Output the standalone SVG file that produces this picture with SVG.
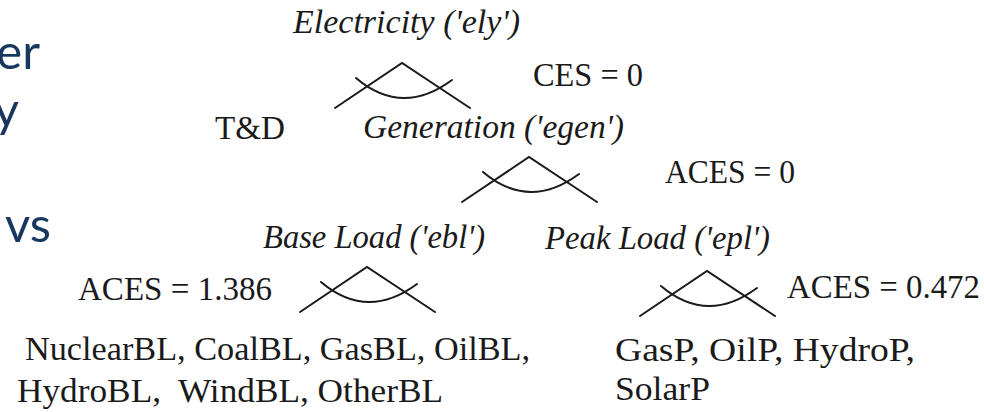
<svg xmlns="http://www.w3.org/2000/svg" xmlns:xlink="http://www.w3.org/1999/xlink" width="984" height="412" viewBox="0 0 984 412">
  <style>
    .slide { font-family: Lato, "Open Sans", sans-serif; font-size: 49px; fill: #17375e; text-anchor: end; }
    .lbl { font-family: "Liberation Serif", "Times New Roman", serif; font-size: 33px; fill: #1a1a1a; white-space: pre; }
    .it { font-style: italic; }
    .crown { fill: none; stroke: #1a1a1a; stroke-width: 2; stroke-linecap: round; stroke-linejoin: miter; }
  </style>
  <defs>
    <g id="crown" class="crown">
      <path d="M-67,45 L0,0 L68,45"/>
      <path d="M-46,15 Q0,54 50,17"/>
    </g>
  </defs>
  <rect width="984" height="412" fill="#ffffff"/>

  <g id="slide-text">
    <text class="slide" x="40" y="69">er</text>
    <text class="slide" x="19" y="127">y</text>
    <text class="slide" x="51" y="242">vs</text>
  </g>

  <g id="connectors">
    <use xlink:href="#crown" x="402" y="63"/>
    <use xlink:href="#crown" x="529" y="157"/>
    <use xlink:href="#crown" x="367" y="267"/>
    <use xlink:href="#crown" x="707" y="271"/>
  </g>

  <g id="node-ely"><text class="lbl it" x="293" y="33" textLength="227" lengthAdjust="spacingAndGlyphs">Electricity ('ely')</text></g>
  <g id="label-ces"><text class="lbl" x="533" y="86" textLength="110" lengthAdjust="spacingAndGlyphs">CES = 0</text></g>
  <g id="node-td"><text class="lbl" x="215" y="139" textLength="70" lengthAdjust="spacingAndGlyphs">T&amp;D</text></g>
  <g id="node-egen"><text class="lbl it" x="363" y="138" textLength="261" lengthAdjust="spacingAndGlyphs">Generation ('egen')</text></g>
  <g id="label-aces-egen"><text class="lbl" x="665" y="183" textLength="130" lengthAdjust="spacingAndGlyphs">ACES = 0</text></g>
  <g id="node-ebl"><text class="lbl it" x="263" y="248" textLength="222" lengthAdjust="spacingAndGlyphs">Base Load ('ebl')</text></g>
  <g id="node-epl"><text class="lbl it" x="545" y="249" textLength="225" lengthAdjust="spacingAndGlyphs">Peak Load ('epl')</text></g>
  <g id="label-aces-ebl"><text class="lbl" x="78" y="300" textLength="194" lengthAdjust="spacingAndGlyphs">ACES = 1.386</text></g>
  <g id="label-aces-epl"><text class="lbl" x="787" y="298" textLength="193" lengthAdjust="spacingAndGlyphs">ACES = 0.472</text></g>
  <g id="node-bl-techs">
    <text class="lbl" x="25" y="360" textLength="505" lengthAdjust="spacingAndGlyphs">NuclearBL, CoalBL, GasBL, OilBL,</text>
    <text class="lbl" x="17" y="402" textLength="426" lengthAdjust="spacingAndGlyphs">HydroBL,  WindBL, OtherBL</text>
  </g>
  <g id="node-p-techs">
    <text class="lbl" x="615" y="361" textLength="300" lengthAdjust="spacingAndGlyphs">GasP, OilP, HydroP,</text>
    <text class="lbl" x="615" y="400" textLength="95" lengthAdjust="spacingAndGlyphs">SolarP</text>
  </g>
</svg>
